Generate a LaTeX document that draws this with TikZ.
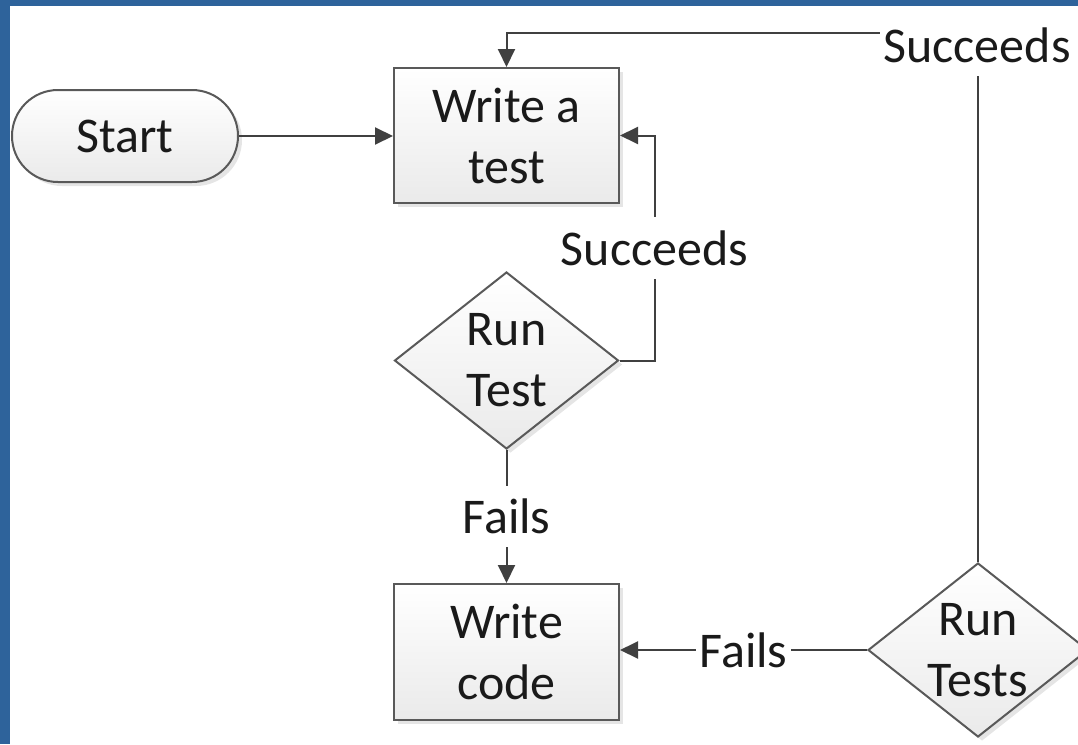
\documentclass[tikz,border=0pt]{standalone}
\usepackage{fontspec}
\setmainfont{Carlito}
\usetikzlibrary{shapes.geometric,shapes.misc,arrows.meta,shadows}
\definecolor{frameblue}{RGB}{46,99,155}
\definecolor{edgegray}{RGB}{89,89,89}
\definecolor{linegray}{RGB}{64,64,64}
\definecolor{textgray}{RGB}{26,26,26}
\definecolor{fillbottom}{RGB}{234,234,234}
\begin{document}
\begin{tikzpicture}[x=1pt,y=-1pt,
  every node/.style={font=\fontsize{50}{61}\selectfont, text=textgray},
  shapebase/.style={draw=edgegray, line width=2pt, top color=white, bottom color=fillbottom,
    drop shadow={fill=black, opacity=0.10, shadow xshift=4pt, shadow yshift=-4pt}},
  procbox/.style={shapebase, rectangle, minimum width=225pt, minimum height=135pt, align=center, inner sep=0pt},
  decisionbox/.style={shapebase, diamond, inner sep=0pt},
  terminalbox/.style={shapebase, rounded rectangle, minimum width=226pt, minimum height=92pt, inner sep=0pt},
  conn/.style={draw=linegray, line width=2pt},
  arr/.style={conn, -{Triangle[length=18pt,width=17pt]}},
  lbl/.style={fill=white, inner xsep=3pt, inner ysep=13pt},
]
\useasboundingbox (0,0) rectangle (1078,744);
\fill[white] (0,0) rectangle (1078,744);
\fill[frameblue] (0,0) rectangle (1078,6);
\fill[frameblue] (0,0) rectangle (10,744);
\clip (0,0) rectangle (1078,744);

\node[terminalbox] (start) at (125,136) {Start};
\node[procbox] (wt) at (506.5,135.5) {Write a\\test};
\node[decisionbox, minimum width=224pt, minimum height=177pt,
  label={[align=center]center:Run\\Test}] (rt) at (506.5,360.5) {};
\node[procbox, minimum height=136pt] (wc) at (506.5,652) {Write\\code};
\node[decisionbox, minimum width=220pt, minimum height=174pt,
  label={[align=center]center:Run\\Tests}] (rts) at (978,650) {};

\coordinate (topbend) at (978,33);

\draw[arr] (start.east) -- (start.east -| wt.west);
\draw[arr] (rt.east) -- ++(35,0) |- node[lbl, pos=0.25] (succmid) {Succeeds} (wt.east);
\draw[arr] (rt.south) -- node[lbl] (failmid) {Fails} (wc.north);
\draw[arr] (rts.west) -- node[lbl] (failbot) {Fails} (rts.west -| wc.east);
\draw[arr] (rts.north) -- (rts.north |- topbend) -- (wt.north |- topbend) -- (wt.north);
\node[lbl] (succtop) at (977,45) {Succeeds};
\end{tikzpicture}
\end{document}
